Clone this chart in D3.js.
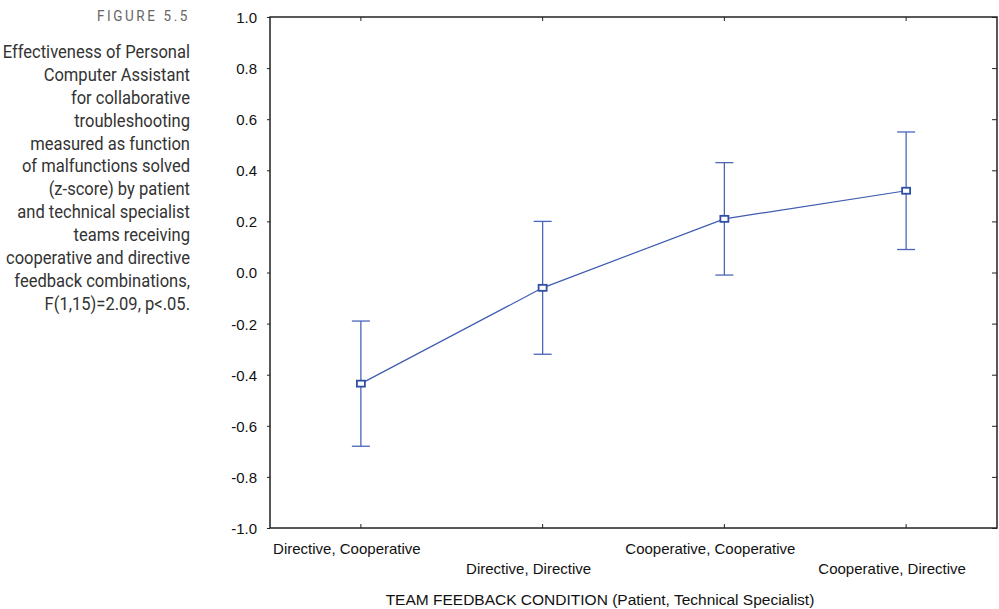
<!DOCTYPE html>
<html>
<head>
<meta charset="utf-8">
<script src="https://cdn.jsdelivr.net/npm/d3@7"></script>
<style>
  body { margin: 0; background: #fff; }
  .cap { font-family: "Roboto", "Liberation Sans", sans-serif; }
  text.lab { font-family: "Liberation Sans", Arial, sans-serif; font-size: 15px; fill: #111; }
</style>
</head>
<body>
<script>
// chart values
var categories = ["Directive, Cooperative", "Directive, Directive", "Cooperative, Cooperative", "Cooperative, Directive"];
var means = [-0.435, -0.06, 0.21, 0.32];
var upper = [-0.19, 0.20, 0.43, 0.55];
var lower = [-0.68, -0.32, -0.01, 0.09];
var yTicks = [1.0, 0.8, 0.6, 0.4, 0.2, 0.0, -0.2, -0.4, -0.6, -0.8, -1.0];
var captionLines = ["Effectiveness of Personal", "Computer Assistant", "for collaborative", "troubleshooting",
  "measured as function", "of malfunctions solved", "(z-score) by patient", "and technical specialist",
  "teams receiving", "cooperative and directive", "feedback combinations,", "F(1,15)=2.09, p<.05."];

var W = 999, H = 609;
var plotL = 270, plotR = 997, plotT = 17, plotB = 528;

var svg = d3.select("body").append("svg").attr("width", W).attr("height", H);

// caption on the left, condensed look via horizontal scaling
var cap = svg.append("g").attr("transform", "translate(190,0) scale(0.93,1)");

cap.append("text").attr("class", "cap")
  .attr("x", 0).attr("y", 21)
  .attr("text-anchor", "end")
  .style("font-size", "14.5px").style("letter-spacing", "2.8px").style("fill", "#666")
  .text("FIGURE 5.5");

cap.selectAll("text.line")
  .data(captionLines)
  .enter().append("text").attr("class", "cap line")
    .attr("x", 0)
    .attr("y", function(d, i) { return 58 + i * 22.9; })
    .attr("text-anchor", "end")
    .style("font-size", "17.8px").style("fill", "#333")
    .text(function(d) { return d; });

// scales
var x = d3.scaleBand().domain(categories).range([plotL, plotR]);
var cx = function(d) { return x(d) + x.bandwidth() / 2; };
var y = d3.scaleLinear().domain([-1, 1]).range([plotB, plotT]);

// frame
svg.append("rect")
  .attr("x", plotL).attr("y", plotT)
  .attr("width", plotR - plotL).attr("height", plotB - plotT)
  .attr("fill", "none").attr("stroke", "#222").attr("stroke-width", 1.5);

// left axis (outer ticks)
var yAxis = svg.append("g")
  .attr("transform", "translate(" + plotL + ",0)")
  .call(d3.axisLeft(y).tickValues(yTicks).tickSize(3).tickPadding(10));
yAxis.select(".domain").remove();
yAxis.selectAll("line").attr("stroke", "#222");
yAxis.selectAll("text").attr("class", "lab").attr("dy", "0.36em")
  .text(function(d) { return d3.format(".1f")(d).replace("−", "-"); });

// right axis (inner ticks)
var yAxisR = svg.append("g")
  .attr("transform", "translate(" + plotR + ",0)")
  .call(d3.axisLeft(y).tickValues(yTicks).tickSize(5).tickFormat(""));
yAxisR.select(".domain").remove();
yAxisR.selectAll("line").attr("stroke", "#222");

// bottom and top ticks (inner)
var xb = svg.append("g")
  .attr("transform", "translate(0," + plotB + ")")
  .call(d3.axisTop(x).tickSize(4).tickFormat(""));
xb.select(".domain").remove();
xb.selectAll("line").attr("stroke", "#222");

var xt = svg.append("g")
  .attr("transform", "translate(0," + plotT + ")")
  .call(d3.axisBottom(x).tickSize(4).tickFormat(""));
xt.select(".domain").remove();
xt.selectAll("line").attr("stroke", "#222");

// staggered category labels
svg.append("g").selectAll("text")
  .data(categories)
  .enter().append("text").attr("class", "lab")
    .attr("x", function(d) { return cx(d) - 14; })
    .attr("y", function(d, i) { return i % 2 === 0 ? 554 : 574; })
    .attr("text-anchor", "middle")
    .text(function(d) { return d; });

svg.append("text").attr("class", "lab")
  .attr("x", 600).attr("y", 605)
  .attr("text-anchor", "middle")
  .style("font-size", "15.5px")
  .text("TEAM FEEDBACK CONDITION (Patient, Technical Specialist)");

// error bars
var bars = svg.append("g").attr("stroke", "#4a65b8").attr("stroke-width", 1.3);
categories.forEach(function(c, i) {
  bars.append("line").attr("x1", cx(c)).attr("x2", cx(c)).attr("y1", y(upper[i])).attr("y2", y(lower[i]));
  bars.append("line").attr("x1", cx(c) - 9).attr("x2", cx(c) + 9).attr("y1", y(upper[i])).attr("y2", y(upper[i]));
  bars.append("line").attr("x1", cx(c) - 9).attr("x2", cx(c) + 9).attr("y1", y(lower[i])).attr("y2", y(lower[i]));
});

// mean line
var line = d3.line()
  .x(function(d, i) { return cx(categories[i]); })
  .y(function(d) { return y(d); });

svg.append("path")
  .datum(means)
  .attr("d", line)
  .attr("fill", "none")
  .attr("stroke", "#3d5bb0")
  .attr("stroke-width", 1.2);

// markers
svg.append("g").selectAll("rect")
  .data(means)
  .enter().append("rect")
    .attr("x", function(d, i) { return cx(categories[i]) - 4; })
    .attr("y", function(d) { return y(d) - 3; })
    .attr("width", 8).attr("height", 6)
    .attr("fill", "#fff")
    .attr("stroke", "#2f4ea6")
    .attr("stroke-width", 1.8);
</script>
</body>
</html>
